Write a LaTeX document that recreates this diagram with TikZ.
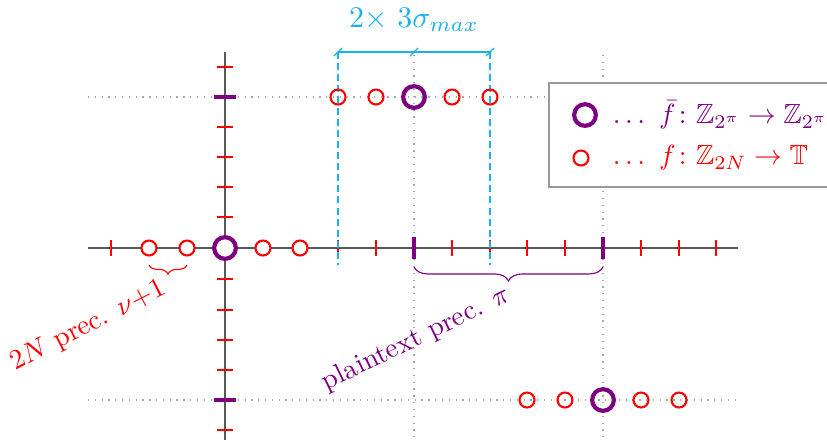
\documentclass[tikz,border=0pt]{standalone}
\usepackage{amsmath,amssymb}
\usetikzlibrary{decorations.pathreplacing}
\definecolor{skyc}{RGB}{25,178,235}
\definecolor{mypurple}{RGB}{125,0,128}
\begin{document}
\begin{tikzpicture}[x=0.36pt,y=-0.36pt,
  rc/.style={circle,draw=red,line width=0.75pt,minimum size=5.4pt,inner sep=0pt},
  pc/.style={circle,draw=mypurple,line width=1.5pt,minimum size=7.8pt,inner sep=0pt},
  rtick/.style={draw=red,line width=0.75pt},
  ptick/.style={draw=mypurple,line width=1.5pt},
  axisline/.style={draw=black!65,line width=0.55pt},
  guide/.style={draw=black!35,dotted,line width=0.45pt},
  dimline/.style={draw=skyc,line width=0.5pt},
  dashguide/.style={draw=skyc,line width=0.5pt,dash pattern=on 2.5pt off 1.5pt},
  legendbox/.style={draw=black!40,fill=white,line width=0.5pt},
]
\useasboundingbox (0,0) rectangle (827,442);
% dotted guides
\coordinate (h1l) at (88,97);  \coordinate (h1r) at (735,97);
\coordinate (h2l) at (88,400); \coordinate (h2r) at (735,400);
\coordinate (v1t) at (414,55); \coordinate (v1b) at (414,442);
\coordinate (v2t) at (603,55); \coordinate (v2b) at (603,442);
\draw[guide] (h1l) -- (h1r);
\draw[guide] (h2l) -- (h2r);
\draw[guide] (v1t) -- (v1b);
\draw[guide] (v2t) -- (v2b);
% axes
\coordinate (xl) at (88,248); \coordinate (xr) at (738,248);
\coordinate (yt) at (225,52); \coordinate (yb) at (225,440);
\draw[axisline] (xl) -- (xr);
\draw[axisline] (yt) -- (yb);
% ticks
\foreach \x in {111,338,376,452,490,527,565,641,679,716}
  \draw[rtick] (\x,240) -- (\x,256);
\foreach \x in {414,603}
  \draw[ptick] (\x,237) -- (\x,259);
\foreach \y in {67,127,157,187,217,279,310,340,370,430}
  \draw[rtick] (217,\y) -- (233,\y);
\foreach \y in {97,400}
  \draw[ptick] (214,\y) -- (236,\y);
% blue dashed guides and dimension
\coordinate (d1t) at (338,52); \coordinate (d1b) at (338,265);
\coordinate (d2t) at (490,52); \coordinate (d2b) at (490,265);
\coordinate (dm) at (414,52);
\draw[dashguide] (d1t) -- (d1b);
\draw[dashguide] (d2t) -- (d2b);
\draw[dimline] (d1t) -- (d2t);
\foreach \x in {338,414,490}
  \draw[dimline] (\x-4,56) -- (\x+4,48);
\node[text=skyc,scale=1.08] (dimlabel) at (414,20) {$2{\times}\ 3\sigma_{max}$};
% circles on axis
\node[rc,fill=white] (a1) at (149,248) {};
\node[rc,fill=white] (a2) at (187,248) {};
\node[pc,fill=white] (a0) at (225,248) {};
\node[rc,fill=white] (a3) at (263,248) {};
\node[rc,fill=white] (a4) at (300,248) {};
% top row
\node[rc] (t1) at (338,97) {};
\node[rc] (t2) at (376,97) {};
\node[pc] (t0) at (414,97) {};
\node[rc] (t3) at (452,97) {};
\node[rc] (t4) at (490,97) {};
% bottom row
\node[rc] (b1) at (527,400) {};
\node[rc] (b2) at (565,400) {};
\node[pc] (b0) at (603,400) {};
\node[rc] (b3) at (641,400) {};
\node[rc] (b4) at (679,400) {};
% braces
\coordinate (br1a) at (187,265); \coordinate (br1b) at (149,265);
\draw[red,line width=0.4pt,decorate,decoration={brace,amplitude=3.2pt}] (br1a) -- (br1b);
\coordinate (br2a) at (603,267); \coordinate (br2b) at (414,267);
\draw[mypurple,line width=0.4pt,decorate,decoration={brace,amplitude=5pt}] (br2a) -- (br2b);
\node[text=red,rotate=27] (lab1) at (88,326) {$2N$ prec. $\nu{+}1$};
\node[text=mypurple,rotate=26] (lab2) at (416,339) {plaintext prec. $\pi$};
% legend
\path[legendbox] (549,83) rectangle (845,187);
\node[pc] (lp) at (585,115) {};
\node[text=mypurple,anchor=west] (lpt) at (603,115) {$\dots\ \bar f\colon \mathbb{Z}_{2^\pi}\to\mathbb{Z}_{2^\pi}$};
\node[rc] (lr) at (581,158) {};
\node[text=red,anchor=west] (lrt) at (603,158) {$\dots\ f\colon \mathbb{Z}_{2N}\to\mathbb{T}$};
\end{tikzpicture}
\end{document}
